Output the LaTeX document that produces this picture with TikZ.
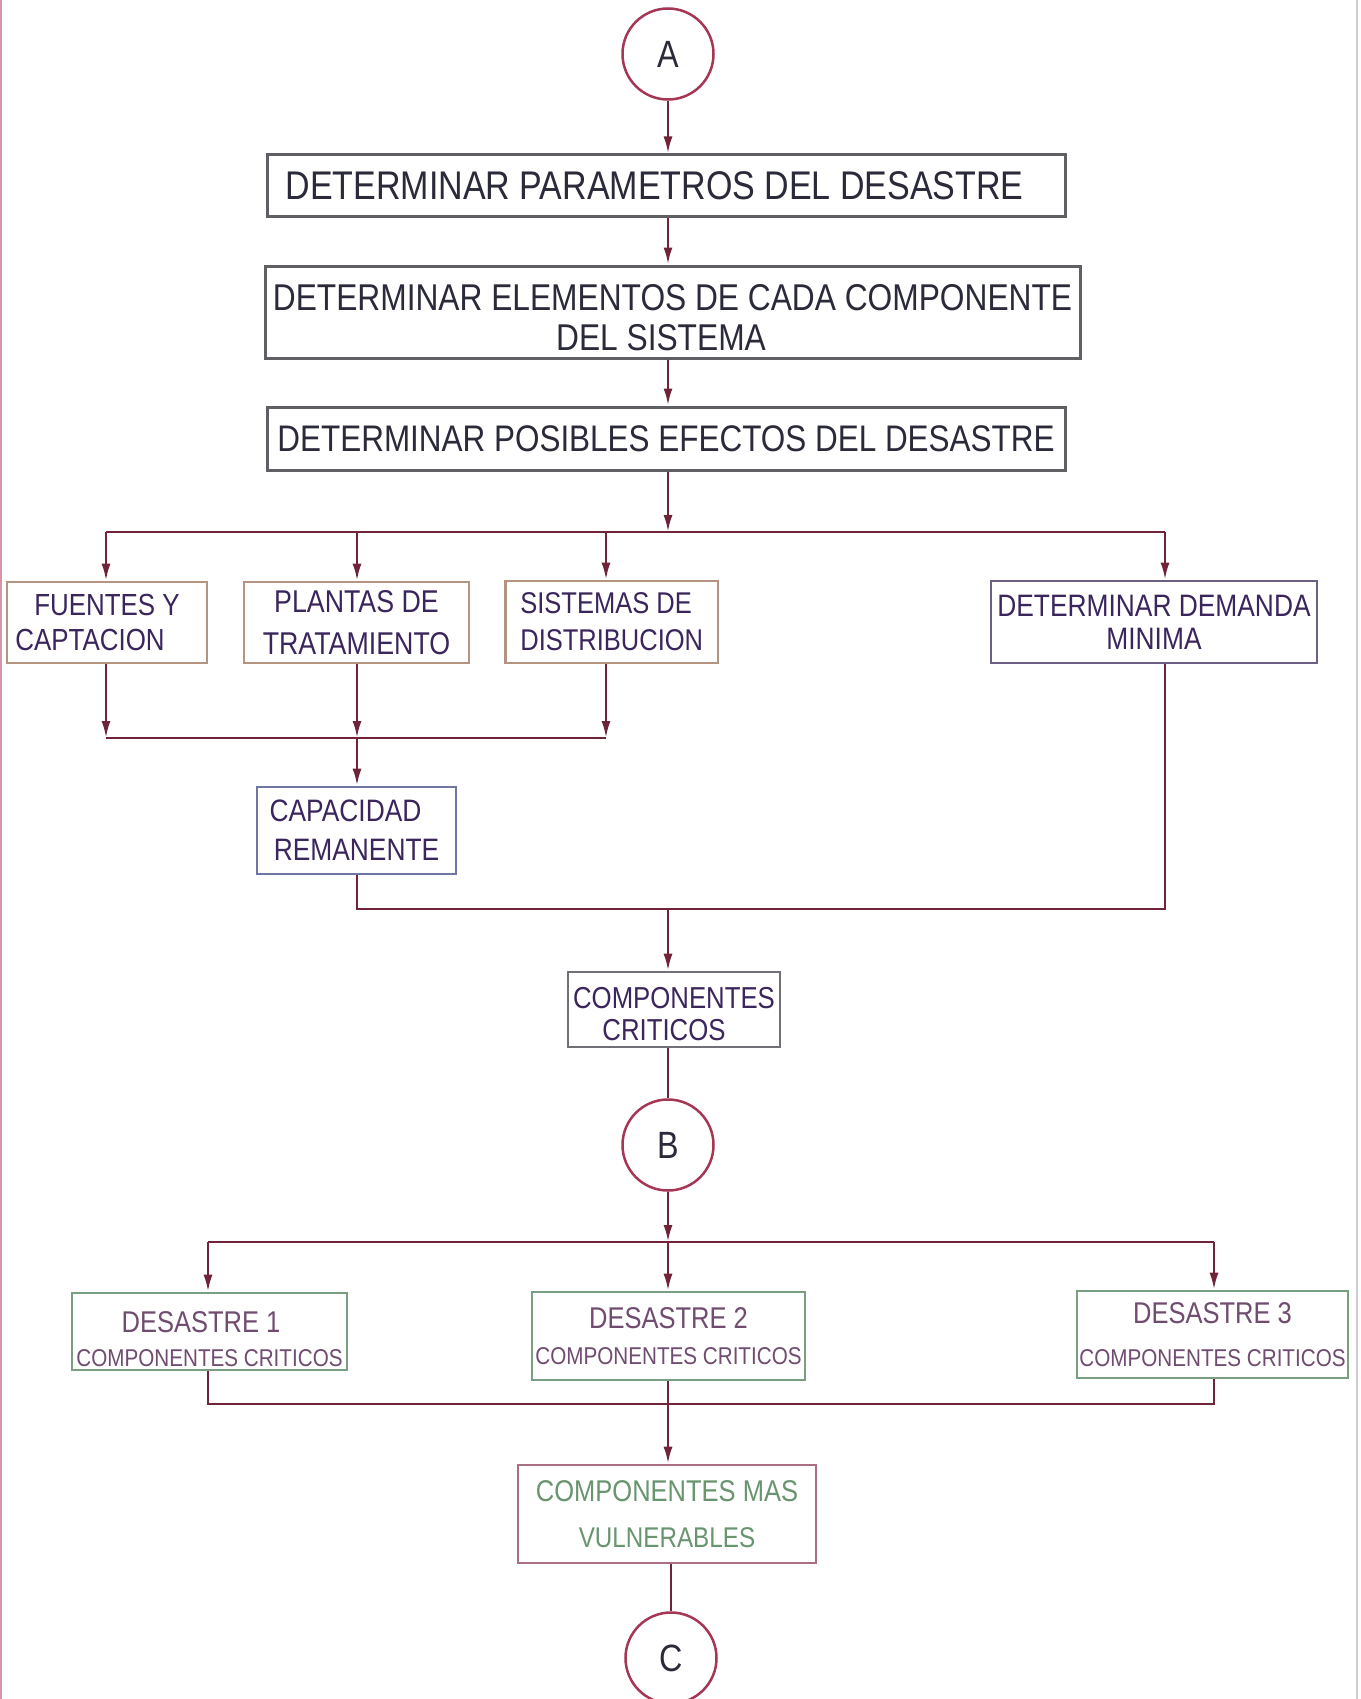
\documentclass[tikz,border=0pt]{standalone}
\usepackage{fontspec}
\setmainfont{Liberation Sans}[FakeStretch=0.85]
\usetikzlibrary{arrows.meta}
\definecolor{lnc}{RGB}{112,36,58}
\definecolor{circc}{RGB}{165,55,85}
\definecolor{topc}{RGB}{95,95,100}
\definecolor{toptxt}{RGB}{42,42,58}
\definecolor{midtxt}{RGB}{58,38,92}
\definecolor{tanc}{RGB}{180,148,128}
\definecolor{demc}{RGB}{108,96,130}
\definecolor{capc}{RGB}{112,118,162}
\definecolor{ccc}{RGB}{112,112,118}
\definecolor{greenc}{RGB}{122,158,130}
\definecolor{mauvetxt}{RGB}{112,76,112}
\definecolor{rosec}{RGB}{168,112,130}
\definecolor{greentxt}{RGB}{104,148,110}
\newcommand\fs[2]{\fontsize{#1}{#2}\selectfont}
\begin{document}
\begin{tikzpicture}[x=1pt,y=-1pt,
  conn/.style={draw=lnc, line width=2.5pt},
  arr/.style={conn, -{Latex[length=17pt,width=9pt]}},
  bx/.style={rectangle, line width=2.6pt, inner sep=0pt, align=center, fill=white},
  topbox/.style={bx, draw=topc, line width=3pt, text=toptxt},
  tanbox/.style={bx, draw=tanc, text=midtxt},
  dembox/.style={bx, draw=demc, text=midtxt},
  capbox/.style={bx, draw=capc, text=midtxt},
  ccbox/.style={bx, draw=ccc, text=midtxt},
  desbox/.style={bx, draw=greenc, text=mauvetxt},
  cmvbox/.style={bx, draw=rosec, text=greentxt},
  circ/.style={circle, draw=circc, line width=2.5pt, minimum size=91pt, inner sep=0pt, text=toptxt, font=\fs{38}{40}},
]
\useasboundingbox[fill=white] (0,0) rectangle (1360,1699);
% page edges of the scan
\draw[line width=2.5pt, draw={rgb,255:red,215;green,150;blue,168}] (1.2,0) -- (1.2,1699);
\draw[line width=1.5pt, draw={rgb,255:red,205;green,205;blue,210}] (1357,0) -- (1357,1699);

% circles
\node[circ] (A) at (668,54) {A};
\node[circ] (B) at (668,1145) {B};
\node[circ] (C) at (671,1658) {C};

% top boxes
\node[topbox, minimum width=798pt, minimum height=61pt, font=\fs{40}{44}] (p1) at (666,185.5)
  {DETERMINAR PARAMETROS DEL DESASTRE\hspace*{23pt}};
\node[topbox, minimum width=815pt, minimum height=92pt, font=\fs{37.3}{40}] (p2) at (672.5,312)
  {\rule{0pt}{36.7pt}DETERMINAR ELEMENTOS DE CADA COMPONENTE\\\hspace*{-23pt}DEL SISTEMA};
\node[topbox, minimum width=798pt, minimum height=63pt, font=\fs{37}{40}] (p3) at (666,438.5)
  {DETERMINAR POSIBLES EFECTOS DEL DESASTRE};

% second level
\node[tanbox, minimum width=200pt, minimum height=81pt, font=\fs{30.5}{35}] (fu) at (107,622.5)
  {FUENTES Y\\\hspace*{-34pt}CAPTACION};
\node[tanbox, minimum width=225pt, minimum height=81pt, font=\fs{31.5}{42}] (pl) at (356.5,622.5)
  {PLANTAS DE\\TRATAMIENTO};
\node[tanbox, align=left, minimum width=212.5pt, minimum height=82pt, font=\fs{30}{37}] (si) at (611.75,622)
  {SISTEMAS DE\\DISTRIBUCION};
\node[dembox, minimum width=326pt, minimum height=82pt, font=\fs{31}{33}] (de) at (1154,622)
  {DETERMINAR DEMANDA\\MINIMA};
\node[capbox, minimum width=199pt, minimum height=87pt, font=\fs{31}{39}] (ca) at (356.5,830.5)
  {\hspace*{-22pt}CAPACIDAD\\REMANENTE};
\node[ccbox, minimum width=212pt, minimum height=75pt, font=\fs{30.3}{32}] (cc) at (674,1009.5)
  {\rule{0pt}{30.7pt}COMPONENTES\\\hspace*{-20pt}CRITICOS};

% disasters
\node[desbox, minimum width=275pt, minimum height=77pt, font=\fs{30}{34}] (d1) at (209.5,1331.5)
  {\rule{0pt}{36.5pt}\hspace*{-17pt}DESASTRE 1\\{\fs{24.3}{34}COMPONENTES CRITICOS}};
\node[desbox, minimum width=273pt, minimum height=88pt, font=\fs{30}{36}] (d2) at (668.5,1336)
  {DESASTRE 2\\{\fs{24.3}{36}COMPONENTES CRITICOS}};
\node[desbox, minimum width=271pt, minimum height=87pt, font=\fs{30}{43}] (d3) at (1212.5,1334.5)
  {DESASTRE 3\\{\fs{24.3}{43}COMPONENTES CRITICOS}};
\node[cmvbox, minimum width=298pt, minimum height=98pt, font=\fs{30}{46}] (cmv) at (667,1514)
  {COMPONENTES MAS\\{\fs{28.5}{46}VULNERABLES}};

% junction coordinates
\coordinate (j1) at (668,532);
\coordinate (j1a) at (106,532);
\coordinate (j1b) at (357,532);
\coordinate (j1c) at (606,532);
\coordinate (j1d) at (1165,532);
\coordinate (m1a) at (106,738);
\coordinate (m1b) at (357,738);
\coordinate (m1c) at (606,738);
\coordinate (m2a) at (357,909);
\coordinate (m2b) at (668,909);
\coordinate (m2c) at (1165,909);
\coordinate (j2) at (668,1242);
\coordinate (j2a) at (208,1242);
\coordinate (j2c) at (1214,1242);
\coordinate (m3a) at (208,1404);
\coordinate (m3b) at (668,1404);
\coordinate (m3c) at (1214,1404);

% connectors top (all on the vertical axis x = 668)
\draw[arr] (A) -- (A |- p1.north);
\draw[arr] (A |- p1.south) -- (A |- p2.north);
\draw[arr] (A |- p2.south) -- (A |- p3.north);
\draw[arr] (A |- p3.south) -- (j1);
\draw[conn] (j1a) -- (j1d);
\draw[arr] (j1a) -- (j1a |- fu.north);
\draw[arr] (j1b) -- (j1b |- pl.north);
\draw[arr] (j1c) -- (j1c |- si.north);
\draw[arr] (j1d) -- (j1d |- de.north);

% merge to capacidad
\draw[arr] (m1a |- fu.south) -- (m1a);
\draw[arr] (m1b |- pl.south) -- (m1b);
\draw[arr] (m1c |- si.south) -- (m1c);
\draw[conn] (m1a) -- (m1c);
\draw[arr] (m1b) -- (m1b |- ca.north);

% merge to componentes criticos
\draw[conn] (m2a |- ca.south) -- (m2a) -- (m2c) -- (m2c |- de.south);
\draw[arr] (m2b) -- (m2b |- cc.north);
\draw[conn] (B |- cc.south) -- (B);

% disasters
\draw[arr] (B) -- (j2);
\draw[conn] (j2a) -- (j2c);
\draw[arr] (j2a) -- (j2a |- d1.north);
\draw[arr] (j2) -- (j2 |- d2.north);
\draw[arr] (j2c) -- (j2c |- d3.north);
\draw[conn] (m3a |- d1.south) -- (m3a) -- (m3c) -- (m3c |- d3.south);
\draw[arr] (m3b |- d2.south) -- (m3b |- cmv.north);
\draw[conn] (C |- cmv.south) -- (C);
\end{tikzpicture}
\end{document}
